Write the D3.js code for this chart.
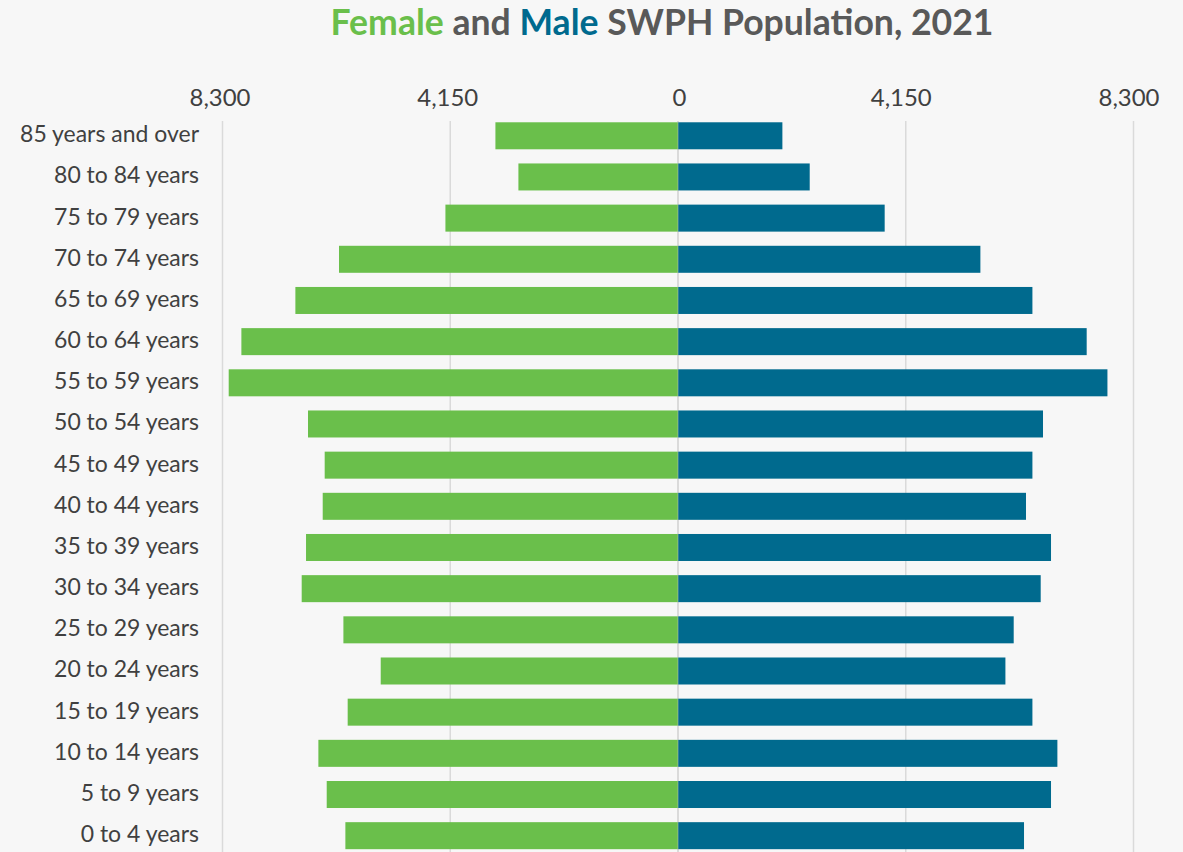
<!DOCTYPE html>
<html>
<head>
<meta charset="utf-8">
<script src="https://cdn.jsdelivr.net/npm/d3@7"></script>
<style>
  html, body { margin: 0; padding: 0; background: #f7f7f7; }
  svg { display: block; }
</style>
</head>
<body>
<svg id="chart" width="1183" height="852"></svg>
<script>
// ---- Data (top row to bottom row, as displayed) ----
const ageGroups = [
  "85 years and over", "80 to 84 years", "75 to 79 years", "70 to 74 years",
  "65 to 69 years", "60 to 64 years", "55 to 59 years", "50 to 54 years",
  "45 to 49 years", "40 to 44 years", "35 to 39 years", "30 to 34 years",
  "25 to 29 years", "20 to 24 years", "15 to 19 years", "10 to 14 years",
  "5 to 9 years", "0 to 4 years"
];
const female = [3327, 2908, 4238, 6177, 6972, 7956, 8187, 6742, 6438, 6474,
                6778, 6857, 6097, 5417, 6019, 6553, 6401, 6061];
const male   = [1902, 2400, 3766, 5510, 6458, 7447, 7825, 6651, 6458, 6341,
                6797, 6609, 6117, 5966, 6458, 6913, 6797, 6305];
const leftTicks  = [8300, 4150];
const rightTicks = [0, 4150, 8300];
const axisMax = 8300;

// ---- Layout ----
const W = 1183, H = 852;
const cx = 678;
const half = 455.5;
const FONT = "Lato, 'Open Sans', 'DejaVu Sans', sans-serif";
const green = "#6abf4b", blue = "#006a8e", titleGray = "#595959", textGray = "#404040";

const svg = d3.select("#chart");
svg.append("rect").attr("width", W).attr("height", H).attr("fill", "#f7f7f7");

const xL = d3.scaleLinear().domain([0, axisMax]).range([cx, cx - half]);
const xR = d3.scaleLinear().domain([0, axisMax]).range([cx, cx + half]);
const y = d3.scaleBand().domain(ageGroups).range([115.2, 115.2 + 18 * 41.17])
  .paddingInner(0.344).paddingOuter(0.172);

// helper: fit font size to a target width
function fitSize(text, weight, targetW) {
  const t = svg.append("text").attr("font-family", FONT).attr("font-weight", weight)
    .attr("font-size", 100).text(text);
  const w = t.node().getComputedTextLength();
  t.remove();
  return 100 * targetW / w;
}

// ---- Gridlines ----
const grid = svg.append("g");
grid.selectAll("line.l").data(leftTicks).join("line")
  .attr("x1", d => xL(d)).attr("x2", d => xL(d))
  .attr("y1", 121).attr("y2", H)
  .attr("stroke", "#dadada").attr("stroke-width", 1.5);
grid.selectAll("line.r").data(rightTicks).join("line")
  .attr("x1", d => xR(d)).attr("x2", d => xR(d))
  .attr("y1", 121).attr("y2", H)
  .attr("stroke", "#dadada").attr("stroke-width", 1.5);

// ---- Bars ----
const rows = ageGroups.map((g, i) => ({ g, f: female[i], m: male[i] }));
svg.append("g").selectAll("rect").data(rows).join("rect")
  .attr("x", d => xL(d.f)).attr("width", d => cx - xL(d.f))
  .attr("y", d => y(d.g)).attr("height", y.bandwidth())
  .attr("fill", green);
svg.append("g").selectAll("rect").data(rows).join("rect")
  .attr("x", cx).attr("width", d => xR(d.m) - cx)
  .attr("y", d => y(d.g)).attr("height", y.bandwidth())
  .attr("fill", blue);

// faint centre line over the bars
svg.append("line").attr("x1", cx).attr("x2", cx).attr("y1", 121).attr("y2", H)
  .attr("stroke", "#c8c8c8").attr("stroke-width", 1).attr("opacity", 0.5);

// ---- Axes ----
const tickSize = fitSize("4,150", 400, 61);
const fmt = d3.format(",");
const axL = svg.append("g").attr("transform", "translate(0,106)")
  .call(d3.axisTop(xL).tickValues(leftTicks).tickFormat(fmt).tickSize(0).tickPadding(0));
const axR = svg.append("g").attr("transform", "translate(0,106)")
  .call(d3.axisTop(xR).tickValues(rightTicks).tickFormat(fmt).tickSize(0).tickPadding(0));
[axL, axR].forEach(a => {
  a.select(".domain").remove();
  a.selectAll("text").attr("font-family", FONT).attr("font-size", tickSize)
    .attr("fill", textGray);
});
axL.selectAll("text").attr("dx", -3);
axR.selectAll("text").attr("dx", d => d === 0 ? 1 : -5);

const labelSize = fitSize("85 years and over", 400, 179);
const axY = svg.append("g").attr("transform", "translate(199,0)")
  .call(d3.axisLeft(y).tickSize(0).tickPadding(0));
axY.select(".domain").remove();
axY.selectAll("text").attr("font-family", FONT).attr("font-size", labelSize)
  .attr("fill", textGray).attr("dy", "0.28em");

// ---- Title ----
const titleParts = [
  { t: "Female", c: green },
  { t: " and ", c: titleGray },
  { t: "Male", c: blue },
  { t: " SWPH Population, 2021", c: titleGray }
];
const titleSize = fitSize(titleParts.map(p => p.t).join(""), 700, 663);
const title = svg.append("text").attr("x", 662).attr("y", 34.5)
  .attr("text-anchor", "middle").attr("font-family", FONT)
  .attr("font-weight", 700).attr("font-size", titleSize)
  .style("white-space", "pre");
title.selectAll("tspan").data(titleParts).join("tspan")
  .attr("fill", d => d.c).text(d => d.t);
</script>
</body>
</html>
